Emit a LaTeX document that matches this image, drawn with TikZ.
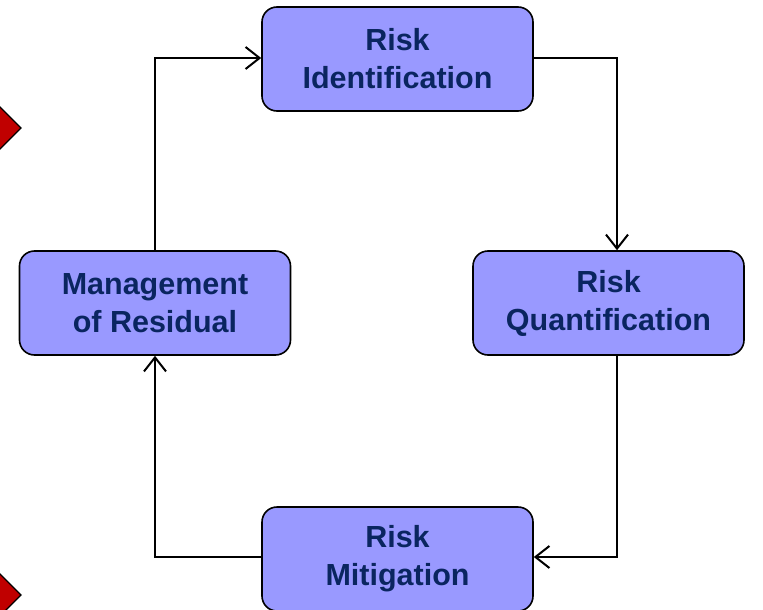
\documentclass[tikz,border=0pt]{standalone}
\usepackage{fontspec}
\setmainfont{Liberation Sans}
\usetikzlibrary{arrows.meta}
\definecolor{boxfill}{HTML}{9999FF}
\definecolor{boxtext}{HTML}{0A2560}
\definecolor{marker}{HTML}{C00000}
\tikzset{
  x=1pt, y=-1pt,
  stage/.style={draw=black, line width=1.6pt, fill=boxfill, rounded corners=15pt,
    minimum width=271pt, minimum height=104pt, align=center, text=boxtext,
    font=\fontsize{30.5}{38}\selectfont\bfseries, inner sep=0pt},
  flow/.style={draw=black, line width=2pt, -{Straight Barb[length=14pt,width=22pt,line width=2pt]}},
  marker/.style={draw=black, line width=1.2pt, fill=marker}
}
\begin{document}
\begin{tikzpicture}
\useasboundingbox (0,0) rectangle (763,610);
\clip (0,0) rectangle (763,610);
% side markers
\draw[marker] (-1,106) -- (21,128) -- (-1,150) -- (-23,128) -- cycle;
\draw[marker] (-1,573) -- (21,595) -- (-1,617) -- (-23,595) -- cycle;
% stages
\node[stage] (ident) at (397.5,59) {Risk\\Identification};
\node[stage] (quant) at (608.5,303) {Risk\\Quantification};
\node[stage] (mitig) at (397.5,559) {Risk\\Mitigation};
\node[stage] (resid) at (155,303) {Management\\of Residual};
% cycle connectors
\coordinate (c1) at (617,58);
\coordinate (c2) at (617,557);
\coordinate (c3) at (155,557);
\coordinate (c4) at (155,58);
\draw[flow] (ident.east |- c1) -- (c1) -- (c1 |- quant.north);
\draw[flow] (quant.south -| c2) -- (c2) -- (mitig.east |- c2);
\draw[flow] (mitig.west |- c3) -- (c3) -- (resid.south);
\draw[flow] (resid.north) -- (c4) -- (ident.west |- c4);
\end{tikzpicture}
\end{document}
